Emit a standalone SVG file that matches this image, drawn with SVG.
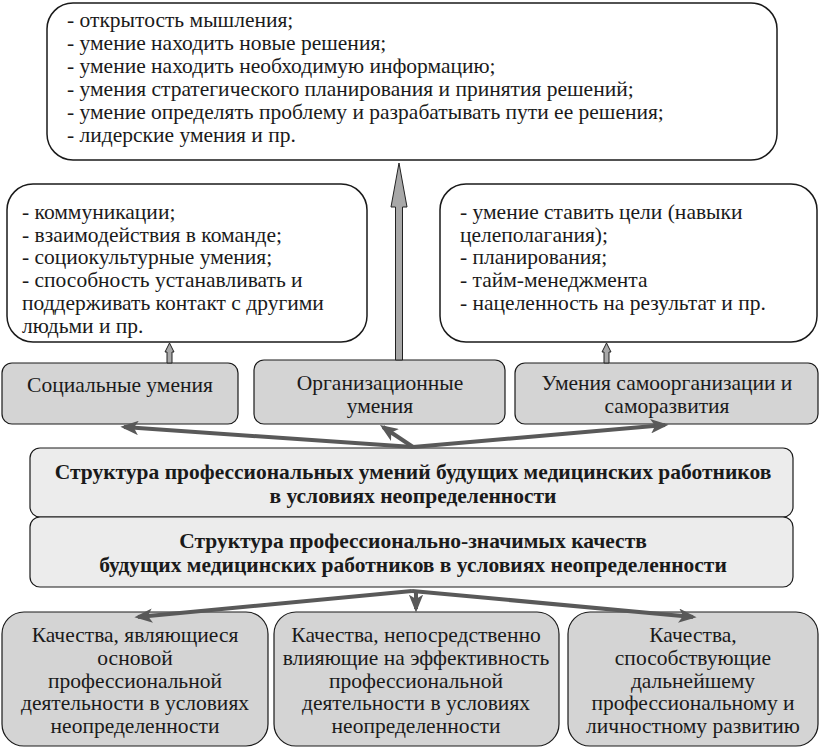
<svg xmlns="http://www.w3.org/2000/svg" width="824" height="747" viewBox="0 0 824 747">
<style>
text{font-family:"Liberation Serif","Times New Roman",serif;font-size:21.5px;fill:#1a1a1a}
.c{text-anchor:middle}
.b{font-weight:bold}
.white{fill:#ffffff;stroke:#1a1a1a;stroke-width:1.5}
.gray{fill:#d4d4d4;stroke:#1a1a1a;stroke-width:1.2}
.light{fill:#ececec;stroke:#1a1a1a;stroke-width:1.2}
.conn{stroke:#595959;stroke-width:4;fill:none;marker-end:url(#ah)}
.block{fill:#a8a8a8;stroke:#222;stroke-width:1}
</style>
<defs>
<marker id="ah" viewBox="0 0 10 8" refX="8" refY="4" markerWidth="4.5" markerHeight="3.6" orient="auto" markerUnits="strokeWidth">
<path d="M0,0 L10,4 L0,8 L2.5,4 z" fill="#595959"/>
</marker>
</defs>
<rect width="824" height="747" fill="#ffffff"/>

<g id="top-box">
<rect class="white" x="47" y="3" width="730" height="157" rx="26"/>
<text x="67" y="27">- открытость мышления;</text>
<text x="67" y="50">- умение находить новые решения;</text>
<text x="67" y="73">- умение находить необходимую информацию;</text>
<text x="67" y="96">- умения стратегического планирования и принятия решений;</text>
<text x="67" y="119">- умение определять проблему и разрабатывать пути ее решения;</text>
<text x="67" y="142">- лидерские умения и пр.</text>
</g>

<g id="social-list">
<rect class="white" x="7" y="184" width="360" height="158" rx="26"/>
<text x="22" y="219">- коммуникации;</text>
<text x="22" y="242">- взаимодействия в команде;</text>
<text x="22" y="264">- социокультурные умения;</text>
<text x="22" y="287">- способность устанавливать и</text>
<text x="22" y="310">поддерживать контакт с другими</text>
<text x="22" y="333">людьми и пр.</text>
</g>

<g id="self-list">
<rect class="white" x="440" y="184" width="377" height="158" rx="26"/>
<text x="460" y="219">- умение ставить цели (навыки</text>
<text x="460" y="242">целеполагания);</text>
<text x="460" y="264">- планирования;</text>
<text x="460" y="287">- тайм-менеджмента</text>
<text x="460" y="310">- нацеленность на результат и пр.</text>
</g>

<g id="social">
<rect class="gray" x="2" y="363" width="236" height="61" rx="10"/>
<text class="c" x="120" y="392">Социальные умения</text>
</g>

<g id="org">
<rect class="gray" x="254" y="360" width="251" height="64" rx="10"/>
<text class="c" x="380" y="390">Организационные</text>
<text class="c" x="380" y="413">умения</text>
</g>

<g id="self">
<rect class="gray" x="515" y="363" width="303" height="61" rx="10"/>
<text class="c" x="667" y="390">Умения самоорганизации и</text>
<text class="c" x="667" y="413">саморазвития</text>
</g>

<g id="skills-structure">
<rect class="light" x="30" y="448" width="763" height="69" rx="10"/>
<text class="c b" x="413" y="479">Структура профессиональных умений будущих медицинских работников</text>
<text class="c b" x="413" y="503">в условиях неопределенности</text>
</g>

<g id="qualities-structure">
<rect class="light" x="30" y="517" width="763" height="70" rx="10"/>
<text class="c b" x="413" y="548">Структура профессионально-значимых качеств</text>
<text class="c b" x="413" y="572">будущих медицинских работников в условиях неопределенности</text>
</g>

<g id="q-basis">
<rect class="gray" x="2" y="612" width="266" height="134" rx="22"/>
<text class="c" x="135" y="642">Качества, являющиеся</text>
<text class="c" x="135" y="665">основой</text>
<text class="c" x="135" y="688">профессиональной</text>
<text class="c" x="135" y="710">деятельности в условиях</text>
<text class="c" x="135" y="733">неопределенности</text>
</g>

<g id="q-efficiency">
<rect class="gray" x="274" y="612" width="285" height="134" rx="22"/>
<text class="c" x="416" y="642">Качества, непосредственно</text>
<text class="c" x="416" y="665">влияющие на эффективность</text>
<text class="c" x="416" y="688">профессиональной</text>
<text class="c" x="416" y="710">деятельности в условиях</text>
<text class="c" x="416" y="733">неопределенности</text>
</g>

<g id="q-development">
<rect class="gray" x="568" y="612" width="250" height="134" rx="22"/>
<text class="c" x="693" y="642">Качества,</text>
<text class="c" x="693" y="665">способствующие</text>
<text class="c" x="693" y="688">дальнейшему</text>
<text class="c" x="693" y="710">профессиональному и</text>
<text class="c" x="693" y="733">личностному развитию</text>
</g>

<g id="connectors">
<path class="block" d="M395.5,360 L395.5,207 L391,207 L399,163 L407,207 L402.5,207 L402.5,360 Z"/>
<path class="block" d="M167,363 L167,352 L165,352 L169.5,343 L174,352 L172,352 L172,363 Z"/>
<path class="block" d="M604,363 L604,352 L602,352 L606.5,343 L611,352 L609,352 L609,363 Z"/>
<line class="conn" x1="413" y1="447" x2="124" y2="427"/>
<line class="conn" x1="413" y1="447" x2="383" y2="427"/>
<line class="conn" x1="413" y1="447" x2="665" y2="425"/>
<line class="conn" x1="412" y1="591" x2="138" y2="617"/>
<line class="conn" x1="416" y1="591" x2="416" y2="609"/>
<line class="conn" x1="412" y1="591" x2="693" y2="617"/>
</g>
</svg>
